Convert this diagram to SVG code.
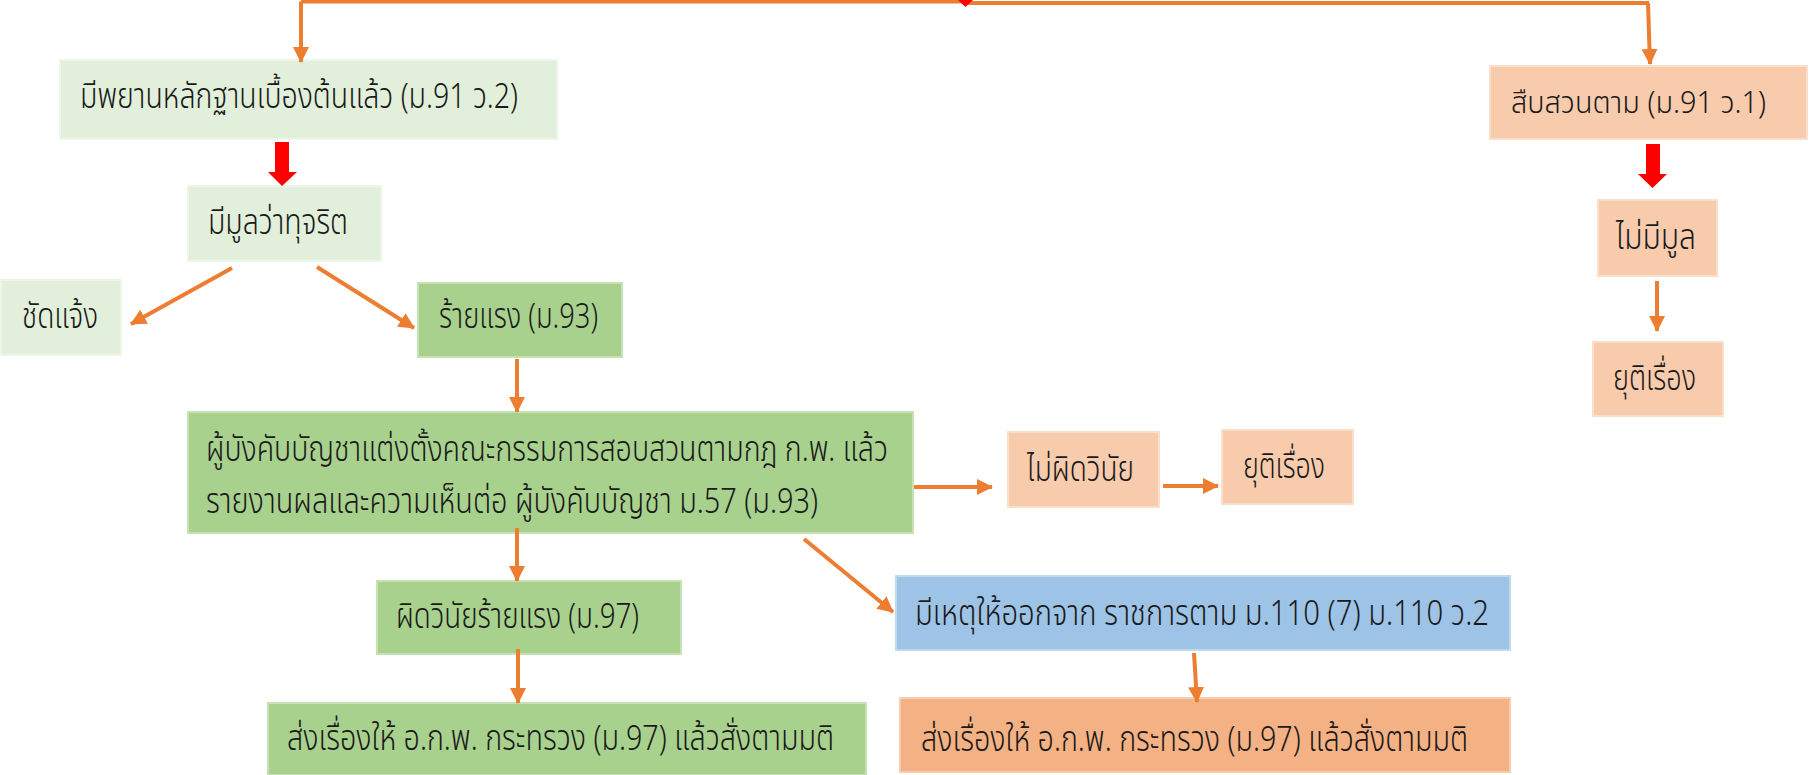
<svg xmlns="http://www.w3.org/2000/svg" width="1809" height="775" viewBox="0 0 1809 775">
<style>
.lg{fill:#E2EFDA;stroke:#EEF6E9;stroke-width:2}
.g{fill:#A9D18E;stroke:#C6E2B3;stroke-width:2}
.p{fill:#F8CBAD;stroke:#FBDFCB;stroke-width:2}
.o{fill:#F4B183;stroke:#F8CDAE;stroke-width:2}
.b{fill:#9DC3E6;stroke:#C0D9EF;stroke-width:2}
text{font-family:"Noto Sans Thai","Noto Sans","DejaVu Sans",sans-serif;font-size:35px;font-weight:300;fill:#1a1a1a}
.c{stroke:#ED7D31;stroke-width:4;fill:none}
.red{fill:#FF0000}
</style>
<defs>
<marker id="ah" markerUnits="userSpaceOnUse" markerWidth="16" markerHeight="16" viewBox="0 0 16 16" refX="15" refY="8" orient="auto">
<path d="M0,0 L16,8 L0,16 Z" fill="#ED7D31"/>
</marker>
</defs>
<g id="n1"><rect class="lg" x="60" y="60" width="497" height="79"/><text x="80" y="108" textLength="438" lengthAdjust="spacingAndGlyphs">มีพยานหลักฐานเบื้องต้นแล้ว (ม.91 ว.2)</text></g>
<g id="n2"><rect class="p" x="1490" y="66" width="317" height="73"/><text x="1511" y="113" style="font-size:31px" textLength="255" lengthAdjust="spacingAndGlyphs">สืบสวนตาม (ม.91 ว.1)</text></g>
<g id="n3"><rect class="lg" x="188" y="186" width="193" height="75"/><text x="208" y="234" textLength="140" lengthAdjust="spacingAndGlyphs">มีมูลว่าทุจริต</text></g>
<g id="n4"><rect class="lg" x="1" y="280" width="120" height="75"/><text x="22" y="328" textLength="76" lengthAdjust="spacingAndGlyphs">ชัดแจ้ง</text></g>
<g id="n5"><rect class="g" x="418" y="283" width="204" height="74"/><text x="439" y="328" textLength="159" lengthAdjust="spacingAndGlyphs">ร้ายแรง (ม.93)</text></g>
<g id="n6"><rect class="g" x="188" y="412" width="725" height="121"/><text x="206" y="461" textLength="682" lengthAdjust="spacingAndGlyphs">ผู้บังคับบัญชาแต่งตั้งคณะกรรมการสอบสวนตามกฎ ก.พ. แล้ว</text><text x="206" y="513" textLength="612" lengthAdjust="spacingAndGlyphs">รายงานผลและความเห็นต่อ ผู้บังคับบัญชา ม.57 (ม.93)</text></g>
<g id="n7"><rect class="p" x="1008" y="432" width="151" height="75"/><text x="1027" y="481" textLength="107" lengthAdjust="spacingAndGlyphs">ไม่ผิดวินัย</text></g>
<g id="n8"><rect class="p" x="1222" y="430" width="131" height="74"/><text x="1243" y="478" textLength="82" lengthAdjust="spacingAndGlyphs">ยุติเรื่อง</text></g>
<g id="n9"><rect class="g" x="377" y="581" width="304" height="73"/><text x="396" y="628" textLength="243" lengthAdjust="spacingAndGlyphs">ผิดวินัยร้ายแรง (ม.97)</text></g>
<g id="n10"><rect class="g" x="268" y="703" width="598" height="72"/><text x="287" y="750" textLength="547" lengthAdjust="spacingAndGlyphs">ส่งเรื่องให้ อ.ก.พ. กระทรวง (ม.97) แล้วสั่งตามมติ</text></g>
<g id="n11"><rect class="b" x="896" y="576" width="614" height="74"/><text x="915" y="625" textLength="574" lengthAdjust="spacingAndGlyphs">มีเหตุให้ออกจาก ราชการตาม ม.110 (7) ม.110 ว.2</text></g>
<g id="n12"><rect class="o" x="900" y="698" width="610" height="74"/><text x="921" y="751" textLength="547" lengthAdjust="spacingAndGlyphs">ส่งเรื่องให้ อ.ก.พ. กระทรวง (ม.97) แล้วสั่งตามมติ</text></g>
<g id="n13"><rect class="p" x="1598" y="200" width="119" height="76"/><text x="1616" y="249" textLength="80" lengthAdjust="spacingAndGlyphs">ไม่มีมูล</text></g>
<g id="n14"><rect class="p" x="1593" y="342" width="130" height="74"/><text x="1613" y="390" textLength="83" lengthAdjust="spacingAndGlyphs">ยุติเรื่อง</text></g>
<g id="connectors">
<path class="c" d="M301,1.5 H963" stroke-width="3"/>
<path class="c" d="M963,3 H1649"/>
<path class="c" d="M301,1.5 V62" stroke-width="3" marker-end="url(#ah)"/>
<path class="c" d="M1648,3 L1650,64" stroke-width="3" marker-end="url(#ah)"/>
<polygon class="red" points="958,0 973,0 965.5,7"/>
<polygon class="red" points="275,142 289,142 289,172 297,172 282,186 268,172 275,172"/>
<polygon class="red" points="1646,144 1660,144 1660,174 1667,174 1652.5,188 1638,174 1646,174"/>
<path class="c" d="M232,268 L131,324" marker-end="url(#ah)"/>
<path class="c" d="M317,267 L414,328" marker-end="url(#ah)"/>
<path class="c" d="M517,359 V412" marker-end="url(#ah)"/>
<path class="c" d="M517,528 V581" marker-end="url(#ah)"/>
<path class="c" d="M914,487 H992" marker-end="url(#ah)"/>
<path class="c" d="M1163,486 H1218" marker-end="url(#ah)"/>
<path class="c" d="M804,539 L893,612" marker-end="url(#ah)"/>
<path class="c" d="M1194,653 L1197,702" marker-end="url(#ah)"/>
<path class="c" d="M518,649 V703" marker-end="url(#ah)"/>
<path class="c" d="M1657,281 V331" marker-end="url(#ah)"/>
</g>
</svg>
